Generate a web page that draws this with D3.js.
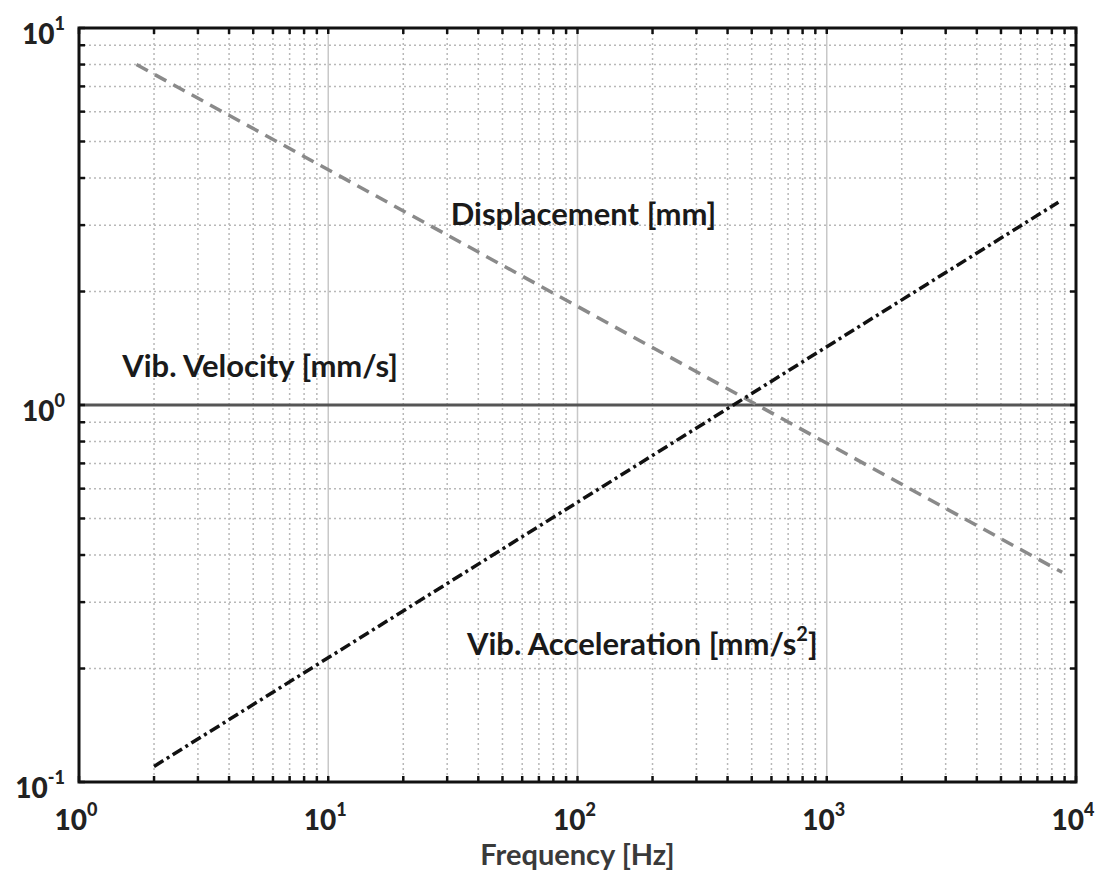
<!DOCTYPE html>
<html>
<head>
<meta charset="utf-8">
<script src="https://cdn.jsdelivr.net/npm/d3@7"></script>
<style>
  body { margin: 0; background: #fff; }
  svg { font-family: Lato, "Open Sans", sans-serif; }
</style>
</head>
<body>
<div id="chart"></div>
<script>
// chart values
var xTickExps = [0, 1, 2, 3, 4];
var yTickExps = [-1, 0, 1];
var velocityFreq = [1, 10000];
var velocityVals = [1, 1];
var dispFreq = [1.7, 8800];
var dispVals = [8.0, 0.36];
var accFreq = [2, 8500];
var accVals = [0.11, 3.45];
var labelTexts = ["Displacement [mm]", "Vib. Velocity [mm/s]", "Vib. Acceleration [mm/s"];

// set the dimensions and margins of the graph
var margin = {top: 28, right: 28, bottom: 90, left: 79},
    width = 1104 - margin.left - margin.right,
    height = 872 - margin.top - margin.bottom;

var svg = d3.select("#chart")
  .append("svg")
    .attr("width", 1104)
    .attr("height", 872)
  .append("g")
    .attr("transform", "translate(" + margin.left + "," + margin.top + ")");

var x = d3.scaleLog().domain([1, 10000]).range([0, width]);
var y = d3.scaleLog().domain([0.1, 10]).range([height, 0]);

// minor and major positions
var xMinor = [], yMinor = [];
for (var e = 0; e < 4; e++) for (var k = 2; k <= 9; k++) xMinor.push(k * Math.pow(10, e));
for (var e = -1; e < 1; e++) for (var k = 2; k <= 9; k++) yMinor.push(k * Math.pow(10, e));
var xMajor = xTickExps.map(function(d) { return Math.pow(10, d); });
var yMajor = yTickExps.map(function(d) { return Math.pow(10, d); });

// grid
var grid = svg.append("g");
grid.selectAll(".xminor").data(xMinor).enter().append("line")
  .attr("x1", function(d) { return x(d); }).attr("x2", function(d) { return x(d); })
  .attr("y1", 0).attr("y2", height)
  .attr("stroke", "#b8b8b8").attr("stroke-width", 1.5).attr("stroke-dasharray", "2,3");
grid.selectAll(".yminor").data(yMinor).enter().append("line")
  .attr("y1", function(d) { return y(d); }).attr("y2", function(d) { return y(d); })
  .attr("x1", 0).attr("x2", width)
  .attr("stroke", "#b8b8b8").attr("stroke-width", 1.5).attr("stroke-dasharray", "2,3");
grid.selectAll(".xmajor").data(xMajor.slice(1, -1)).enter().append("line")
  .attr("x1", function(d) { return x(d); }).attr("x2", function(d) { return x(d); })
  .attr("y1", 0).attr("y2", height)
  .attr("stroke", "#c8c8c8").attr("stroke-width", 1.5);
grid.selectAll(".ymajor").data(yMajor.slice(1, -1)).enter().append("line")
  .attr("y1", function(d) { return y(d); }).attr("y2", function(d) { return y(d); })
  .attr("x1", 0).attr("x2", width)
  .attr("stroke", "#c8c8c8").attr("stroke-width", 1.5);

// lines
function series(fs, vs) {
  return fs.map(function(f, i) { return [f, vs[i]]; });
}
var line = d3.line()
  .x(function(d) { return x(d[0]); })
  .y(function(d) { return y(d[1]); });

svg.append("path").datum(series(velocityFreq, velocityVals))
  .attr("d", line).attr("fill", "none")
  .attr("stroke", "#555").attr("stroke-width", 3);
svg.append("path").datum(series(dispFreq, dispVals))
  .attr("d", line).attr("fill", "none")
  .attr("stroke", "#8a8a8a").attr("stroke-width", 3.5)
  .attr("stroke-dasharray", "13,8");
svg.append("path").datum(series(accFreq, accVals))
  .attr("d", line).attr("fill", "none")
  .attr("stroke", "#111").attr("stroke-width", 3.5)
  .attr("stroke-dasharray", "11,4,3,4");

// ticks (inside, all four sides)
var xAll = xMinor.concat(xMajor), yAll = yMinor.concat(yMajor);
var ticks = svg.append("g").attr("stroke", "#111").attr("stroke-width", 2.5);
xAll.forEach(function(d) {
  ticks.append("line").attr("x1", x(d)).attr("x2", x(d)).attr("y1", height).attr("y2", height - 6);
  ticks.append("line").attr("x1", x(d)).attr("x2", x(d)).attr("y1", 0).attr("y2", 6);
});
yAll.forEach(function(d) {
  ticks.append("line").attr("y1", y(d)).attr("y2", y(d)).attr("x1", 0).attr("x2", 6);
  ticks.append("line").attr("y1", y(d)).attr("y2", y(d)).attr("x1", width).attr("x2", width - 6);
});

// frame
svg.append("rect").attr("x", 0).attr("y", 0).attr("width", width).attr("height", height)
  .attr("fill", "none").attr("stroke", "#111").attr("stroke-width", 3);

// tick labels
function powLabel(sel, exp) {
  sel.append("tspan").text("10");
  sel.append("tspan").attr("font-size", 18).attr("dy", -14).text(exp);
}
xTickExps.forEach(function(e) {
  var t = svg.append("text")
    .attr("x", x(Math.pow(10, e)) - 3).attr("y", height + 48)
    .attr("text-anchor", "middle").attr("font-size", 28).attr("font-weight", 900)
    .attr("fill", "#222");
  powLabel(t, e);
});
yTickExps.forEach(function(e) {
  var t = svg.append("text")
    .attr("x", -14).attr("y", y(Math.pow(10, e)) + 16)
    .attr("text-anchor", "end").attr("font-size", 28).attr("font-weight", 900)
    .attr("fill", "#222");
  powLabel(t, e);
});

// axis title
svg.append("text")
  .attr("x", x(100)).attr("y", height + 83)
  .attr("text-anchor", "middle").attr("font-size", 29).attr("font-weight", "bold")
  .attr("fill", "#3a3a3a").text("Frequency [Hz]");

// annotations
var ann = svg.append("g").attr("font-size", 31).attr("font-weight", "bold").attr("fill", "#1a1a1a");
ann.append("text").attr("x", x(31)).attr("y", y(3.0)).text(labelTexts[0]);
ann.append("text").attr("x", x(1.49)).attr("y", y(1.19)).text(labelTexts[1]);
var acc = ann.append("text").attr("x", x(36)).attr("y", y(0.217)).text(labelTexts[2]);
acc.append("tspan").attr("font-size", 20).attr("dy", -14).text("2");
acc.append("tspan").attr("dy", 14).text("]");
</script>
</body>
</html>
